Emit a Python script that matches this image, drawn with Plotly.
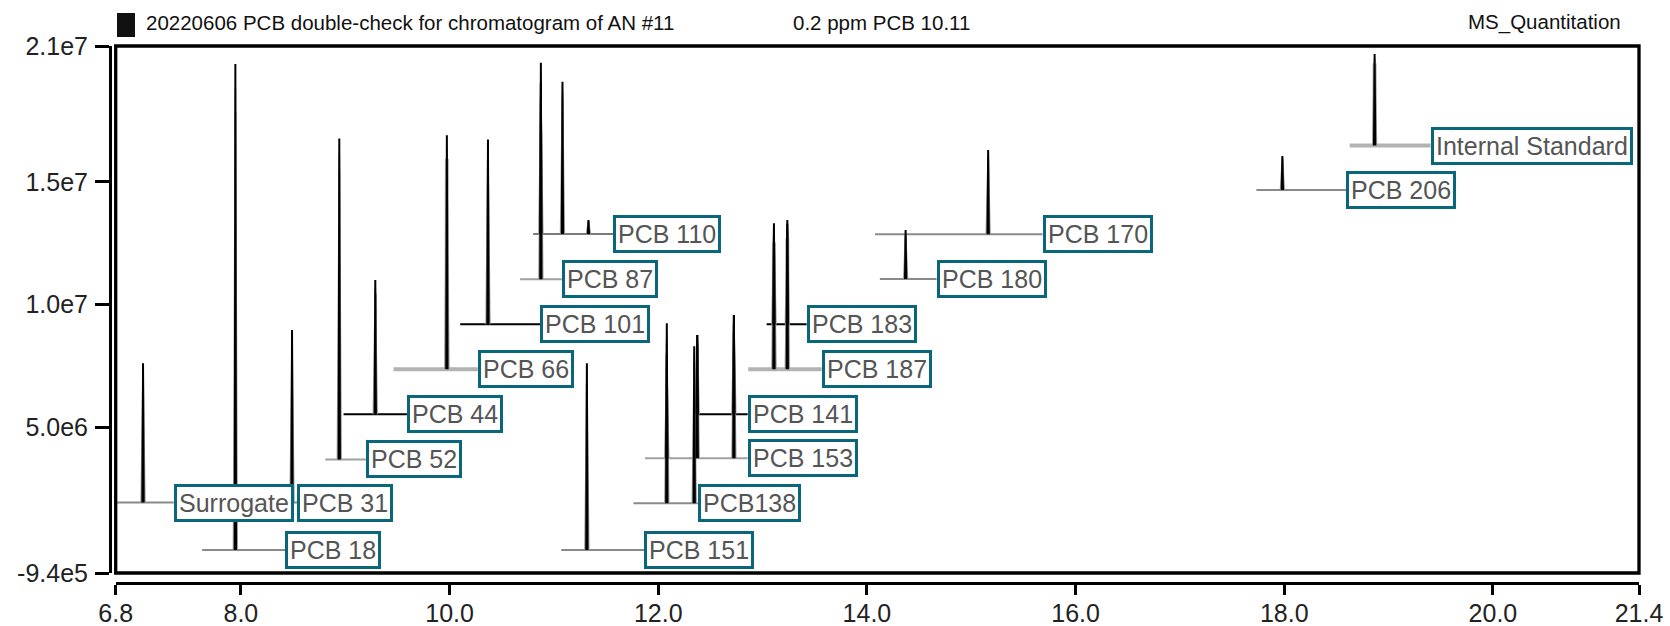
import plotly.graph_objects as go

# ---------------- data ----------------
labels = ["Surrogate", "PCB 31", "PCB 18", "PCB 52", "PCB 44", "PCB 66", "PCB 101",
          "PCB 87", "PCB 110", "PCB 151", "PCB138", "PCB 153", "PCB 141", "PCB 183",
          "PCB 187", "PCB 180", "PCB 170", "PCB 206", "Internal Standard"]
# baseline offset of each stacked trace (abundance)
offsets = [1.93e6, 1.93e6, 0.0, 3.69e6, 5.53e6, 7.36e6, 9.20e6,
           1.103e7, 1.288e7, 0.0, 1.90e6, 3.74e6, 5.53e6, 9.20e6,
           7.36e6, 1.104e7, 1.287e7, 1.467e7, 1.648e7]
# retention-time window of each trace (min)
t_start = [6.80, 7.50, 7.628, 8.809, 8.984, 9.463, 10.102,
           10.676, 10.801, 11.07, 11.762, 11.874, 12.35, 13.039,
           12.863, 14.124, 14.077, 17.733, 18.627]
t_end = [7.356, 8.538, 8.425, 9.198, 9.591, 10.271, 10.868,
         11.076, 11.570, 11.867, 12.379, 12.857, 12.857, 13.422,
         13.566, 14.668, 15.683, 18.595, 19.402]
# peak retention times (min) and peak abundances above the baseline
peak_rt = [[7.062], [8.49], [7.947], [8.943], [9.288], [9.974], [10.368],
           [10.875], [10.875, 11.082, 11.331], [11.316], [12.082, 12.345],
           [12.082, 12.374, 12.725], [12.374, 12.725], [13.109, 13.237],
           [13.109, 13.237], [14.371], [15.162], [17.982], [18.866]]
peak_abund = [[5.68e6], [7.03e6], [1.981e7], [1.308e7], [5.47e6], [9.54e6], [7.53e6],
              [8.83e6], [6.2e6, 6.2e6, 5.7e5], [7.61e6], [7.34e6, 6.4e6],
              [4.26e6, 5.02e6, 5.84e6], [3.23e6, 4.05e6], [4.11e6, 4.25e6],
              [5.74e6, 5.94e6], [2.0e6], [3.43e6], [1.39e6], [3.73e6]]

x_ticks = [6.8, 8.0, 10.0, 12.0, 14.0, 16.0, 18.0, 20.0, 21.4]
x_ticktext = ["6.8", "8.0", "10.0", "12.0", "14.0", "16.0", "18.0", "20.0", "21.4"]
y_ticks = [-9.4e5, 5.0e6, 1.0e7, 1.5e7, 2.054e7]
y_ticktext = ["-9.4e5", "5.0e6", "1.0e7", "1.5e7", "2.1e7"]
x_range = [6.8, 21.4]
y_range = [-9.4e5, 2.054e7]

title_left = "20220606 PCB double-check for chromatogram of AN #11"
title_mid = "0.2 ppm PCB 10.11"
title_right = "MS_Quantitation"

# ---------------- styles ----------------
GRAY = "#8a8a8a"
LGRAY = "#b3b3b3"
MGRAY = "#a0a0a0"
trace_colors = [GRAY, GRAY, GRAY, MGRAY, "black", LGRAY, "black",
                MGRAY, "#7a7a7a", GRAY, GRAY, MGRAY, "black", "black",
                LGRAY, GRAY, GRAY, GRAY, LGRAY]
trace_widths = [2, 2, 2, 2, 2, 4, 2, 2, 2, 2, 2, 2, 2, 2, 4, 2, 2, 2, 4]
TEAL = "#0a677b"
HALF_W = 0.018      # drawn half width of a peak (min), light outline
HALF_W_CORE = 0.006

# pixel layout
L, R, T, B = 110, 1639, 46, 583
FRAME_L, FRAME_B = 115.7, 573
W_PX, H_PX = 1670, 626


def px_x(p):
    return (p - L) / (R - L)


def px_y(p):
    return (B - p) / (B - T)


fig = go.Figure()

# baselines of the stacked chromatogram traces
for i, name in enumerate(labels):
    off = offsets[i]
    xs, ys = [t_start[i]], [off]
    for rt, a in sorted(zip(peak_rt[i], peak_abund[i])):
        if t_start[i] < rt < t_end[i]:
            xs += [rt - 0.004, rt, rt + 0.004]
            ys += [off, off + 0.9 * a, off]
    xs.append(t_end[i])
    ys.append(off)
    fig.add_trace(go.Scatter(x=xs, y=ys, mode="lines", name=name,
                             line=dict(color=trace_colors[i], width=trace_widths[i]),
                             showlegend=False, hoverinfo="skip"))

# light outline of the peaks
gx, gy = [], []
for i in range(len(labels)):
    off = offsets[i]
    for rt, a in zip(peak_rt[i], peak_abund[i]):
        gx += [rt - HALF_W, rt, rt + HALF_W, None]
        gy += [off, off + 0.95 * a, off, None]
fig.add_trace(go.Scatter(x=gx, y=gy, mode="lines", line=dict(color="#9a9a9a", width=1.6),
                         showlegend=False, hoverinfo="skip"))

# dark cores of the peaks
cx, cy = [], []
for i in range(len(labels)):
    off = offsets[i]
    for rt, a in zip(peak_rt[i], peak_abund[i]):
        cx += [rt - HALF_W_CORE, rt, rt + HALF_W_CORE, None]
        cy += [off, off + a, off, None]
fig.add_trace(go.Scatter(x=cx, y=cy, mode="lines", line=dict(color="black", width=2),
                         showlegend=False, hoverinfo="skip"))

# compound labels
annotations = []
for i, name in enumerate(labels):
    annotations.append(dict(
        x=t_end[i], y=offsets[i], xref="x", yref="y", text=name, showarrow=False,
        xanchor="left", yanchor="middle",
        font=dict(family="Liberation Sans, Arial", size=25, color="#555555"),
        bgcolor="white", bordercolor=TEAL, borderwidth=3, borderpad=2, height=28))

hdr_font = dict(family="Liberation Sans, Arial", size=20.5, color="#111111")
annotations.append(dict(x=px_x(143.5), y=px_y(22), xref="paper", yref="paper", text=title_left,
                        showarrow=False, xanchor="left", yanchor="middle", font=hdr_font))
annotations.append(dict(x=px_x(790.5), y=px_y(22), xref="paper", yref="paper", text=title_mid,
                        showarrow=False, xanchor="left", yanchor="middle", font=hdr_font))
annotations.append(dict(x=px_x(1622.5), y=px_y(22), xref="paper", yref="paper", text=title_right,
                        showarrow=False, xanchor="right", yanchor="middle", font=hdr_font))

shapes = [
    # plot frame
    dict(type="rect", xref="x domain", yref="y domain", x0=0, x1=1, y0=0, y1=1,
         line=dict(color="black", width=3.3), fillcolor="rgba(0,0,0,0)", layer="above"),
    # small black marker before the header
    dict(type="rect", xref="paper", yref="paper", x0=px_x(117), x1=px_x(135),
         y0=px_y(37), y1=px_y(13), line=dict(width=0), fillcolor="#111111"),
]

tick_font = dict(family="Liberation Sans, Arial", size=25, color="#222222")

fig.update_layout(
    width=W_PX, height=H_PX,
    margin=dict(l=L, r=W_PX - R, t=T, b=H_PX - B, pad=0),
    paper_bgcolor="white", plot_bgcolor="white",
    showlegend=False,
    xaxis=dict(range=x_range, domain=[px_x(FRAME_L), 1], anchor="free", position=0,
               tickmode="array", tickvals=x_ticks, ticktext=x_ticktext,
               showline=True, linecolor="black", linewidth=3,
               ticks="outside", ticklen=10, tickwidth=3, tickcolor="black",
               showgrid=False, zeroline=False, tickfont=tick_font, automargin=False,
               ticklabelstandoff=-3),
    yaxis=dict(range=y_range, domain=[px_y(FRAME_B), 1], anchor="free", position=0,
               tickmode="array", tickvals=y_ticks, ticktext=y_ticktext,
               showline=True, linecolor="black", linewidth=3,
               ticks="outside", ticklen=14, tickwidth=3, tickcolor="black",
               showgrid=False, zeroline=False, tickfont=tick_font, automargin=False,
               ticklabelstandoff=2),
    annotations=annotations,
    shapes=shapes,
)

fig.write_html("out.html")
